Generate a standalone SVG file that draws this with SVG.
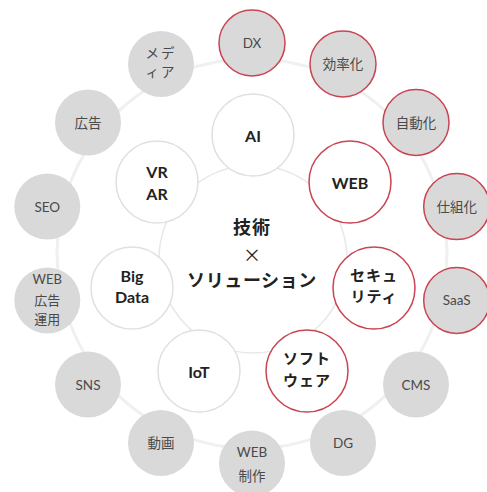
<svg xmlns="http://www.w3.org/2000/svg" width="487" height="492" viewBox="0 0 487 492">
<style>
.ring-o{fill:none;stroke:#f0f0f0;stroke-width:3}
.ring-i{fill:none;stroke:#e8e8e8;stroke-width:1.5}
.outer{fill:#d9d9d9;stroke:none}
.outer.red{stroke:#c94452;stroke-width:1.5}
.inner{fill:#ffffff;stroke:#e0e0e0;stroke-width:1.5}
.inner.red{stroke:#c94452}
text{font-family:Lato,"Noto Sans CJK JP",sans-serif;text-anchor:middle;dominant-baseline:central}
.ot{font-size:13.5px;fill:#4a4a4a}
.ot3{font-size:13px;fill:#4a4a4a}
.it{font-size:16px;font-weight:700;fill:#222222}
.ij{font-size:15px;font-weight:700;fill:#222222;letter-spacing:1px}
.ct{font-size:18px;font-weight:700;fill:#222222}
.cx{font-family:"Noto Sans CJK JP",sans-serif;font-size:18px;fill:#222222}
</style>
<rect width="487" height="492" fill="#ffffff"/>
<g id="connectors">
<circle class="ring-o" cx="252" cy="253.5" r="195"/>
<circle class="ring-i" cx="253" cy="259" r="94"/>
</g>
<g id="center"><text class="ct" x="252" y="227" letter-spacing="1">技術</text><text class="cx" x="252" y="254">×</text><text class="ct" x="252" y="280" letter-spacing="0.6">ソリューション</text></g>
<g id="n-ai"><circle class="inner" cx="253" cy="135" r="41"/><text class="it" x="253" y="135">AI</text></g>
<g id="n-web"><circle class="inner red" cx="350" cy="182" r="41"/><text class="it" x="350" y="182">WEB</text></g>
<g id="n-sec"><circle class="inner red" cx="374" cy="288" r="41"/><text class="ij" x="374" y="275">セキュ</text><text class="ij" x="374" y="296">リティ</text></g>
<g id="n-soft"><circle class="inner red" cx="307" cy="371" r="41"/><text class="ij" x="307" y="358">ソフト</text><text class="ij" x="307" y="380">ウェア</text></g>
<g id="n-iot"><circle class="inner" cx="199" cy="371" r="41"/><text class="it" x="199" y="371">IoT</text></g>
<g id="n-bigdata"><circle class="inner" cx="132" cy="288" r="41"/><text class="it" x="132" y="275">Big</text><text class="it" x="132" y="296">Data</text></g>
<g id="n-vrar"><circle class="inner" cx="157" cy="182" r="41"/><text class="it" x="157" y="171">VR</text><text class="it" x="157" y="193">AR</text></g>
<g id="o-dx"><circle class="outer red" cx="252" cy="43" r="33"/><text class="ot" x="252" y="43">DX</text></g>
<g id="o-kouritsuka"><circle class="outer red" cx="343" cy="64" r="33"/><text class="ot" x="343" y="64">効率化</text></g>
<g id="o-jidouka"><circle class="outer red" cx="416" cy="122.5" r="33"/><text class="ot" x="416" y="122.5">自動化</text></g>
<g id="o-shikumika"><circle class="outer red" cx="456.7" cy="206.6" r="33"/><text class="ot" x="456.7" y="206.6">仕組化</text></g>
<g id="o-saas"><circle class="outer red" cx="456.7" cy="300.4" r="33"/><text class="ot" x="456.7" y="300.4">SaaS</text></g>
<g id="o-cms"><circle class="outer" cx="416" cy="384.6" r="33"/><text class="ot" x="416" y="384.6">CMS</text></g>
<g id="o-dg"><circle class="outer" cx="343" cy="443" r="33"/><text class="ot" x="343" y="443">DG</text></g>
<g id="o-webseisaku"><circle class="outer" cx="252" cy="463.5" r="33"/><text class="ot" x="252" y="452">WEB</text><text class="ot" x="252" y="476">制作</text></g>
<g id="o-douga"><circle class="outer" cx="161" cy="443" r="33"/><text class="ot" x="161" y="443">動画</text></g>
<g id="o-sns"><circle class="outer" cx="88" cy="384.6" r="33"/><text class="ot" x="88" y="384.6">SNS</text></g>
<g id="o-webkoukoku"><circle class="outer" cx="47.3" cy="300.4" r="33"/><text class="ot3" x="47.3" y="279">WEB</text><text class="ot3" x="47.3" y="299.5">広告</text><text class="ot3" x="47.3" y="319">運用</text></g>
<g id="o-seo"><circle class="outer" cx="47.3" cy="206.6" r="33"/><text class="ot" x="47.3" y="206.6">SEO</text></g>
<g id="o-koukoku"><circle class="outer" cx="88" cy="122.5" r="33"/><text class="ot" x="88" y="122.5">広告</text></g>
<g id="o-media"><circle class="outer" cx="161" cy="64" r="33"/><text class="ot" x="161" y="53" letter-spacing="2">メデ</text><text class="ot" x="161" y="72" letter-spacing="2">ィア</text></g>
</svg>
